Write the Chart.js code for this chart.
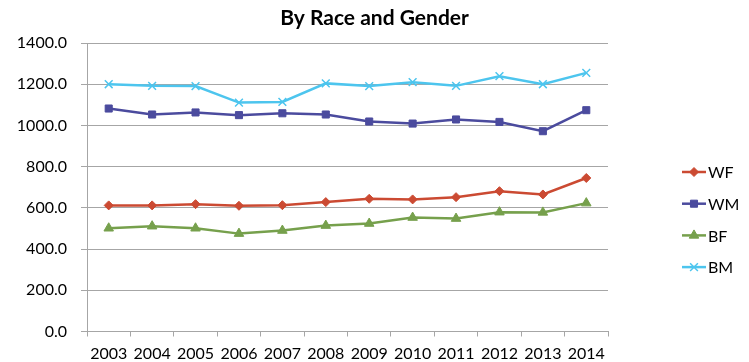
<!DOCTYPE html>
<html>
<head>
<meta charset="utf-8">
<script src="https://cdn.jsdelivr.net/npm/chart.js@4.4.1/dist/chart.umd.min.js"></script>
<style>
html,body{margin:0;padding:0;background:#fff;}
.chart-container{position:relative;width:749px;height:362px;}
</style>
</head>
<body>
<div class="chart-container"><canvas id="raceChart"></canvas></div>
<script>

// DATA

const years = ["2003","2004","2005","2006","2007","2008","2009","2010","2011","2012","2013","2014"];

const wf = [612,612,618,610,613,628,644,641,652,681,665,745];
const wm = [1082,1053,1063,1050,1059,1053,1019,1009,1029,1017,972,1074];
const bf = [501,511,501,475,490,514,524,553,548,579,578,623];
const bm = [1200,1192,1191,1111,1114,1204,1191,1210,1192,1239,1200,1255];

const yTicks = [0,200,400,600,800,1000,1200,1400];


function makeSet(label,data,color,style,radius){
return {
label:label,
data:data,
borderColor:color,
backgroundColor:color,
borderWidth:2.5,
pointStyle:style,
pointRadius:radius,
pointHoverRadius:radius,
pointBorderWidth:style==="crossRot" ? 1.5 : 1,
tension:0
};
}


// LEGEND ON THE RIGHT (line + marker like the original)

const sideLegend = {
id:"sideLegend",
afterDraw(chart){
const ctx = chart.ctx;
let y = 172;
chart.data.datasets.forEach(ds=>{
ctx.save();
ctx.strokeStyle = ds.borderColor;
ctx.lineWidth = 2.5;
ctx.beginPath();
ctx.moveTo(682,y);
ctx.lineTo(706,y);
ctx.stroke();
ctx.fillStyle = ds.backgroundColor;
ctx.lineWidth = ds.pointBorderWidth;
Chart.helpers.drawPoint(ctx,{pointStyle:ds.pointStyle,radius:ds.pointRadius,rotation:0,borderWidth:ds.pointBorderWidth},694,y);
ctx.fillStyle = "#000";
ctx.font = "16px Lato";
ctx.textBaseline = "middle";
ctx.fillText(ds.label,708,y+1);
ctx.restore();
y += 31.7;
});
}
};


const ctx = document.getElementById("raceChart").getContext("2d");

new Chart(ctx,{

type:"line",

data:{
labels:years,
datasets:[
makeSet("WF",wf,"#CB4A32","rectRot",4.5),
makeSet("WM",wm,"#4B4B9E","rect",5),
makeSet("BF",bf,"#76A04C","triangle",5.5),
makeSet("BM",bm,"#4DC5EE","crossRot",5.5)
]
},

options:{

responsive:true,
maintainAspectRatio:false,
animation:false,

layout:{
padding:{left:0,right:0,top:0,bottom:0}
},

plugins:{
legend:{display:false},
tooltip:{enabled:false},
title:{
display:true,
text:"By Race and Gender",
color:"#000",
font:{family:"Lato",size:21,weight:"bold"},
padding:{top:6,bottom:11.8}
}
},

scales:{

x:{
offset:true,
grid:{
offset:true,
drawOnChartArea:false,
drawTicks:true,
tickLength:5,
color:"#A6A6A6"
},
border:{display:true,color:"#A6A6A6"},
ticks:{
color:"#000",
padding:8,
maxRotation:0,
autoSkip:false,
font:{family:"Lato",size:16}
},
afterFit(scale){ scale.height = 30.5; }
},

y:{
min:0,
max:1400,
afterBuildTicks(scale){ scale.ticks = yTicks.map(v=>({value:v})); },
grid:{
color:"#A6A6A6",
tickLength:6
},
border:{display:true,color:"#A6A6A6"},
ticks:{
color:"#000",
padding:14,
font:{family:"Lato",size:16},
callback:(value)=>Number(value).toFixed(1)
},
afterFit(scale){ scale.width = 87; }
},

// empty space on the right where the legend sits
legendSpace:{
type:"linear",
position:"right",
display:true,
grid:{display:false},
border:{display:false},
ticks:{display:false},
afterFit(scale){ scale.width = 141; }
}

}

},

plugins:[sideLegend]

});

</script>
</body>
</html>
